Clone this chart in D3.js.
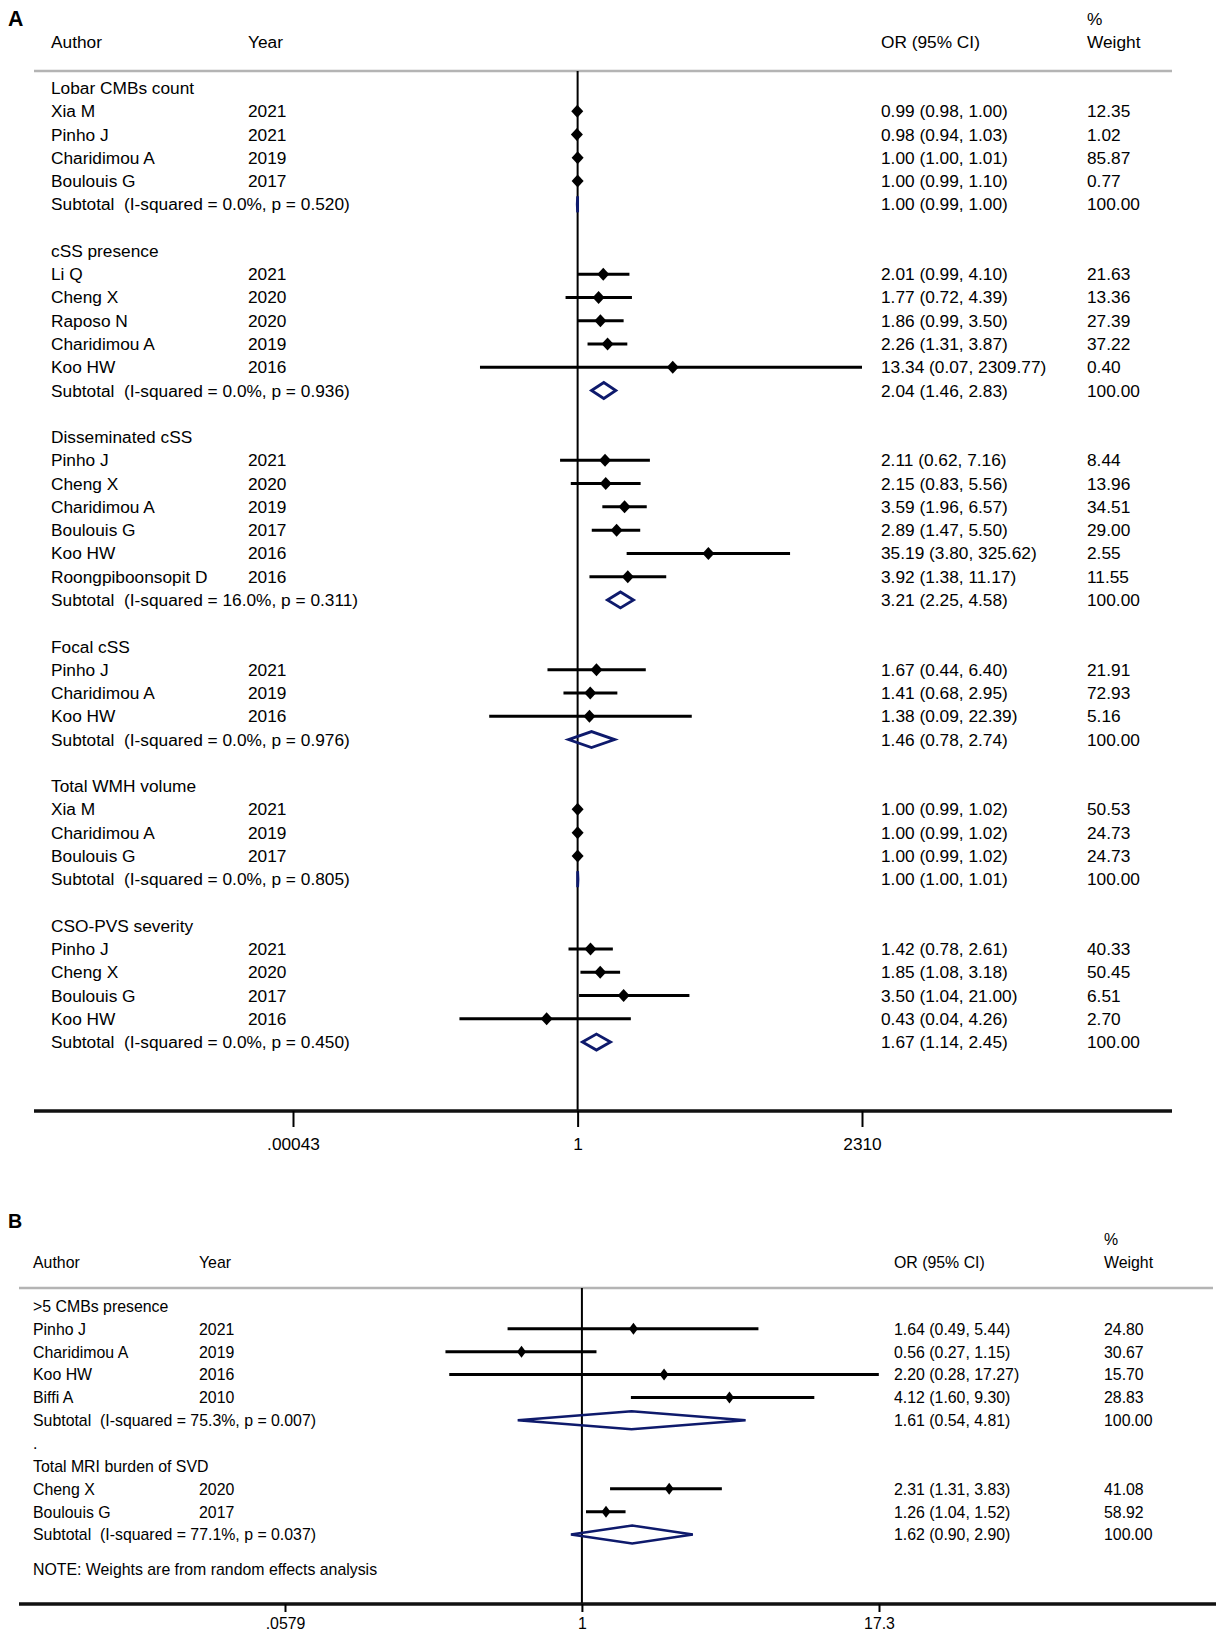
<!DOCTYPE html>
<html>
<head>
<meta charset="utf-8">
<script src="https://cdn.jsdelivr.net/npm/d3@7"></script>
<style>
  body { margin: 0; background: #fff; }
  svg text { font-family: "Liberation Sans", Arial, Helvetica, sans-serif; white-space: pre; fill: #000; }
</style>
</head>
<body>
<svg id="chart" width="1216" height="1637"></svg>
<script>
// ---- panel A data ----
const groupsA = ["Lobar CMBs count", "cSS presence", "Disseminated cSS", "Focal cSS", "Total WMH volume", "CSO-PVS severity"];
const authorsA = [
    ["Xia M", "Pinho J", "Charidimou A", "Boulouis G"],
    ["Li Q", "Cheng X", "Raposo N", "Charidimou A", "Koo HW"],
    ["Pinho J", "Cheng X", "Charidimou A", "Boulouis G", "Koo HW", "Roongpiboonsopit D"],
    ["Pinho J", "Charidimou A", "Koo HW"],
    ["Xia M", "Charidimou A", "Boulouis G"],
    ["Pinho J", "Cheng X", "Boulouis G", "Koo HW"]
];
const yearsA = [
    [2021, 2021, 2019, 2017],
    [2021, 2020, 2020, 2019, 2016],
    [2021, 2020, 2019, 2017, 2016, 2016],
    [2021, 2019, 2016],
    [2021, 2019, 2017],
    [2021, 2020, 2017, 2016]
];
const orA = [
    [0.99, 0.98, 1.00, 1.00],
    [2.01, 1.77, 1.86, 2.26, 13.34],
    [2.11, 2.15, 3.59, 2.89, 35.19, 3.92],
    [1.67, 1.41, 1.38],
    [1.00, 1.00, 1.00],
    [1.42, 1.85, 3.50, 0.43]
];
const lowA = [
    [0.98, 0.94, 1.00, 0.99],
    [0.99, 0.72, 0.99, 1.31, 0.07],
    [0.62, 0.83, 1.96, 1.47, 3.80, 1.38],
    [0.44, 0.68, 0.09],
    [0.99, 0.99, 0.99],
    [0.78, 1.08, 1.04, 0.04]
];
const highA = [
    [1.00, 1.03, 1.01, 1.10],
    [4.10, 4.39, 3.50, 3.87, 2309.77],
    [7.16, 5.56, 6.57, 5.50, 325.62, 11.17],
    [6.40, 2.95, 22.39],
    [1.02, 1.02, 1.02],
    [2.61, 3.18, 21.00, 4.26]
];
const weightA = [
    [12.35, 1.02, 85.87, 0.77],
    [21.63, 13.36, 27.39, 37.22, 0.40],
    [8.44, 13.96, 34.51, 29.00, 2.55, 11.55],
    [21.91, 72.93, 5.16],
    [50.53, 24.73, 24.73],
    [40.33, 50.45, 6.51, 2.70]
];
const i2A = [0.0, 0.0, 16.0, 0.0, 0.0, 0.0];
const pA = [0.520, 0.936, 0.311, 0.976, 0.805, 0.450];
const subOrA = [1.00, 2.04, 3.21, 1.46, 1.00, 1.67];
const subLowA = [0.99, 1.46, 2.25, 0.78, 1.00, 1.14];
const subHighA = [1.00, 2.83, 4.58, 2.74, 1.01, 2.45];
const ticksA = [0.00043, 1, 2310];
const tickLabelsA = [".00043", "1", "2310"];

// ---- panel B data ----
const groupsB = [">5 CMBs presence", "Total MRI burden of SVD"];
const authorsB = [
    ["Pinho J", "Charidimou A", "Koo HW", "Biffi A"],
    ["Cheng X", "Boulouis G"]
];
const yearsB = [[2021, 2019, 2016, 2010], [2020, 2017]];
const orB = [[1.64, 0.56, 2.20, 4.12], [2.31, 1.26]];
const lowB = [[0.49, 0.27, 0.28, 1.60], [1.31, 1.04]];
const highB = [[5.44, 1.15, 17.27, 9.30], [3.83, 1.52]];
const weightB = [[24.80, 30.67, 15.70, 28.83], [41.08, 58.92]];
const i2B = [75.3, 77.1];
const pB = [0.007, 0.037];
const subOrB = [1.61, 1.62];
const subLowB = [0.54, 0.90];
const subHighB = [4.81, 2.90];
const ticksB = [0.0579, 1, 17.3];
const tickLabelsB = [".0579", "1", "17.3"];
const noteB = "NOTE: Weights are from random effects analysis";

const f1 = d3.format(".1f"), f2 = d3.format(".2f"), f3 = d3.format(".3f");
const NAVY = "#0e1a6c";

// layout of the two panels
const panelA = {
    letter: "A", letterY: 19, font: 17.3, squeeze: 1,
    authorX: 51, yearX: 248, orX: 881, wX: 1087,
    pctY: 19, headY: 42, ruleY: 71, ruleX: [34, 1172],
    rowY0: 88, rowStep: 23.27, spacer: "",
    axisY: 1111, axisX: [34, 1172], tickLen: 16, labelY: 1144,
    xRange: [293, 862], ticks: ticksA, tickLabels: tickLabelsA,
    mark: [6, 6.5], subH: 8, subStroke: 2.8, ciWidth: 3
};
const panelB = {
    letter: "B", letterY: 1221, font: 16.8, squeeze: 0.945,
    authorX: 33, yearX: 199, orX: 894, wX: 1104,
    pctY: 1239, headY: 1262, ruleY: 1288, ruleX: [19, 1213],
    rowY0: 1306, rowStep: 22.85, spacer: ".",
    axisY: 1604, axisX: [19, 1216], tickLen: 8, labelY: 1623,
    xRange: [285, 879], ticks: ticksB, tickLabels: tickLabelsB,
    mark: [4.5, 6], subH: 9, subStroke: 2.3, ciWidth: 3
};

const svg = d3.select("#chart");

// flatten groups into table rows
function buildRows(groups, authors, years, or, low, high, weight, i2, p, subOr, subLow, subHigh, spacer) {
    const rows = [];
    groups.forEach((g, gi) => {
        rows.push({type: "head", label: g});
        authors[gi].forEach((a, j) => {
            rows.push({type: "study", label: a, year: years[gi][j],
                or: or[gi][j], lo: low[gi][j], hi: high[gi][j], w: weight[gi][j]});
        });
        rows.push({type: "sub", label: `Subtotal  (I-squared = ${f1(i2[gi])}%, p = ${f3(p[gi])})`,
            or: subOr[gi], lo: subLow[gi], hi: subHigh[gi], w: 100});
        if (gi < groups.length - 1) rows.push({type: "gap", label: spacer});
    });
    return rows;
}

function drawPanel(cfg, rows, note) {
    const g = svg.append("g");
    const x = d3.scaleLog().domain([cfg.ticks[0], cfg.ticks[2]]).range(cfg.xRange);
    const y = i => cfg.rowY0 + i * cfg.rowStep;

    function label(px, py, str, opts = {}) {
        return g.append("text")
            .attr("transform", `translate(${px},${py}) scale(${cfg.squeeze},1)`)
            .attr("dy", "0.35em")
            .style("font-size", (opts.size || cfg.font) + "px")
            .style("font-weight", opts.bold ? "bold" : null)
            .text(str);
    }

    // panel letter and column headers
    label(8, cfg.letterY, cfg.letter, {bold: true, size: cfg.font + 4});
    label(cfg.authorX, cfg.headY, "Author");
    label(cfg.yearX, cfg.headY, "Year");
    label(cfg.orX, cfg.headY, "OR (95% CI)");
    label(cfg.wX, cfg.pctY, "%");
    label(cfg.wX, cfg.headY, "Weight");

    g.append("line")
        .attr("x1", cfg.ruleX[0]).attr("x2", cfg.ruleX[1])
        .attr("y1", cfg.ruleY).attr("y2", cfg.ruleY)
        .attr("stroke", "#b4b4b4").attr("stroke-width", 2.5);

    // line of no effect
    g.append("line")
        .attr("x1", x(1)).attr("x2", x(1))
        .attr("y1", cfg.ruleY).attr("y2", cfg.axisY)
        .attr("stroke", "#000").attr("stroke-width", 2);

    rows.forEach((r, i) => {
        const yy = y(i);
        if (r.label) label(cfg.authorX, yy, r.label);
        if (r.type === "study") {
            label(cfg.yearX, yy, r.year);
            g.append("line")
                .attr("x1", x(r.lo)).attr("x2", x(r.hi))
                .attr("y1", yy).attr("y2", yy)
                .attr("stroke", "#000").attr("stroke-width", cfg.ciWidth);
            const cx = x(r.or), [mw, mh] = cfg.mark;
            g.append("path")
                .attr("d", `M${cx - mw},${yy}L${cx},${yy - mh}L${cx + mw},${yy}L${cx},${yy + mh}Z`)
                .attr("fill", "#000");
        }
        if (r.type === "sub") {
            const h = cfg.subH;
            g.append("path")
                .attr("d", `M${x(r.lo)},${yy}L${x(r.or)},${yy - h}L${x(r.hi)},${yy}L${x(r.or)},${yy + h}Z`)
                .attr("fill", "none")
                .attr("stroke", NAVY).attr("stroke-width", cfg.subStroke)
                .attr("stroke-linejoin", "miter");
        }
        if (r.type === "study" || r.type === "sub") {
            label(cfg.orX, yy, `${f2(r.or)} (${f2(r.lo)}, ${f2(r.hi)})`);
            label(cfg.wX, yy, f2(r.w));
        }
    });

    if (note) label(cfg.authorX, y(rows.length - 1 + 1.5), note);

    // bottom axis
    g.append("line")
        .attr("x1", cfg.axisX[0]).attr("x2", cfg.axisX[1])
        .attr("y1", cfg.axisY).attr("y2", cfg.axisY)
        .attr("stroke", "#111").attr("stroke-width", 3.5);

    const ax = g.append("g")
        .attr("transform", `translate(0,${cfg.axisY})`)
        .call(d3.axisBottom(x)
            .tickValues(cfg.ticks)
            .tickFormat((d, i) => cfg.tickLabels[i])
            .tickSize(cfg.tickLen));
    ax.select(".domain").remove();
    ax.selectAll(".tick line").attr("stroke", "#000").attr("stroke-width", 2);
    ax.selectAll(".tick text")
        .attr("y", cfg.labelY - cfg.axisY)
        .attr("dy", "0.35em")
        .attr("transform", `scale(${cfg.squeeze},1)`)
        .style("font-size", cfg.font + "px")
        .style("font-family", '"Liberation Sans", Arial, sans-serif');
}

const rowsA = buildRows(groupsA, authorsA, yearsA, orA, lowA, highA, weightA,
    i2A, pA, subOrA, subLowA, subHighA, panelA.spacer);
const rowsB = buildRows(groupsB, authorsB, yearsB, orB, lowB, highB, weightB,
    i2B, pB, subOrB, subLowB, subHighB, panelB.spacer);

drawPanel(panelA, rowsA, null);
drawPanel(panelB, rowsB, noteB);
</script>
</body>
</html>
